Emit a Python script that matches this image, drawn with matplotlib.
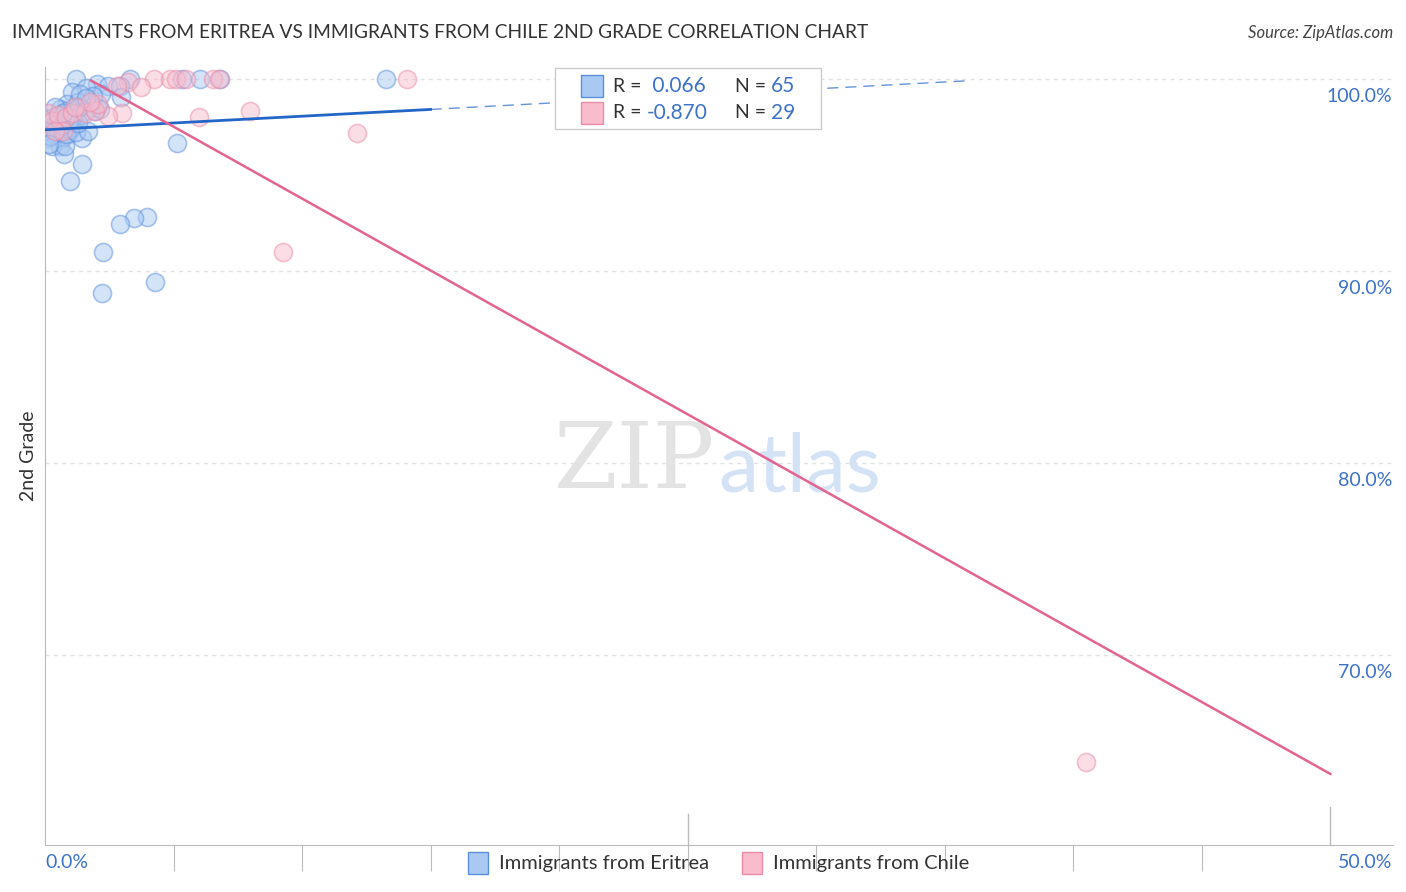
import numpy as np
import matplotlib.pyplot as plt

# Immigrants from Eritrea (x = % immigrants, y = 2nd grade %)
eritrea_x = [1.21, 3.31, 5.33, 6.03, 6.81, 13.27, 2.02, 2.45, 2.92, 1.60,
             2.96, 1.05, 2.18, 0.86, 1.28, 1.75, 2.02, 1.17, 0.58, 0.31,
             0.19, 0.39, 0.12, 0.66, 0.58, 0.89, 1.44, 0.97, 0.27, 0.74,
             0.78, 5.14, 1.44, 0.97, 3.97, 3.46, 2.92, 2.26, 4.28, 2.22,
             0.08, 0.39, 0.00, 0.58, 0.82, 1.17, 1.56, 1.87, 1.36, 1.05,
             0.51, 0.82, 1.21, 1.67, 0.19, 0.66, 0.93, 0.39, 1.32, 1.60,
             1.95, 2.14, 0.70, 0.16, 1.28]
eritrea_y = [100.0, 100.0, 100.0, 100.0, 100.0, 100.0, 99.7, 99.6, 99.6, 99.5,
             99.06, 99.3, 99.2, 98.7, 98.8, 98.5, 98.5, 97.6, 97.9, 98.0,
             97.5, 97.1, 96.9, 96.9, 96.5, 97.1, 96.9, 97.4, 96.5, 96.1,
             96.5, 96.67, 95.57, 94.69, 92.81, 92.76, 92.45, 91.0, 89.43, 88.85,
             97.9, 97.6, 97.3, 98.4, 98.3, 98.2, 98.3, 99.1, 99.2, 97.9,
             97.2, 97.1, 97.2, 97.3, 97.0, 97.6, 97.8, 98.5, 98.5, 99.0,
             98.3, 98.4, 98.2, 96.6, 97.7]

# Immigrants from Chile
chile_x = [4.24, 4.86, 5.10, 5.49, 6.54, 6.77, 14.09, 3.23, 3.74, 2.80,
           7.98, 5.99, 3.00, 2.45, 12.14, 9.26, 40.50, 0.12, 0.27, 0.51,
           0.82, 1.05, 1.56, 1.95, 2.06, 1.75, 0.70, 0.39, 1.17]
chile_y = [100.0, 100.0, 100.0, 100.0, 100.0, 100.0, 100.0, 99.84, 99.58, 99.6,
           98.33, 98.02, 98.23, 98.07, 97.19, 90.99, 64.43, 98.2, 97.8, 98.1,
           98.0, 98.2, 98.2, 98.3, 98.7, 98.8, 97.3, 97.3, 98.5]

# regression lines (solid part, dashed extension)
eritrea_fit_x = [0.0, 15.0, 36.0]
eritrea_fit_y = [97.34, 98.40, 99.90]
chile_fit_x = [1.8, 50.0]
chile_fit_y = [99.9, 63.8]

yticks = [70, 80, 90, 100]
xlabels = ["0.0%", "50.0%"]

blue_fill = "#a9c9f2"
blue_edge = "#5b8fdc"
pink_fill = "#f8bccd"
pink_edge = "#e88ca9"
blue_line = "#2466c8"
pink_line = "#e2648f"
tick_blue = "#3d72c9"

plt.rcParams['font.family'] = ['Lato', 'DejaVu Sans']

fig = plt.figure(figsize=(14.06, 8.92), dpi=100)
ax = fig.add_axes([0.032, 0.0527, 0.959, 0.872])
ax.set_xlim(0, 52.45)
ax.set_ylim(60.1, 100.6)

for v in yticks:
    ax.axhline(v, color="#e2e2e2", lw=1, ls=(0, (3, 3)), zorder=0)
    ax.text(52.4, v - 0.94, f"{v:.1f}%", ha="right", va="center",
            fontsize=14, color=tick_blue)

ax.scatter(eritrea_x, eritrea_y, s=170, facecolor=blue_fill, edgecolor=blue_edge,
           alpha=0.5, lw=1.2, zorder=3)
ax.scatter(chile_x, chile_y, s=170, facecolor=pink_fill, edgecolor=pink_edge,
           alpha=0.5, lw=1.2, zorder=3)

ax.plot(eritrea_fit_x[:2], eritrea_fit_y[:2], color=blue_line, lw=2, zorder=4)
ax.plot(eritrea_fit_x[1:], eritrea_fit_y[1:], color=blue_line, lw=1, ls=(0, (8, 5)),
        alpha=0.7, zorder=4)
ax.plot(chile_fit_x, chile_fit_y, color=pink_line, lw=1.8, zorder=4)

# axes styling
for s in ["top", "right"]:
    ax.spines[s].set_visible(False)
ax.spines["left"].set_color("#bbbbbb")
ax.spines["bottom"].set_color("#bbbbbb")
ax.set_yticks([])
ax.set_xticks(np.arange(5, 50, 5))
ax.tick_params(axis="x", length=19, color="#bbbbbb", labelbottom=False)
ax.plot([25, 25], [60.1, 61.7], color="#bbbbbb", lw=1, clip_on=False)
ax.plot([50, 50], [60.1, 62.1], color="#bbbbbb", lw=1, clip_on=False)
ax.text(0, 59.2, xlabels[0], ha="left", va="center", fontsize=14, color=tick_blue)
ax.text(52.4, 59.2, xlabels[1], ha="right", va="center", fontsize=14, color=tick_blue)

ax.set_ylabel("2nd Grade", fontsize=14, color="#333333", labelpad=6)

# watermark
ax.text(19.8, 80.0, "ZIP", fontsize=66, family="DejaVu Serif", color="#e3e3e3",
        ha="left", va="center", zorder=1)
ax.text(26.2, 79.7, "atlas", fontsize=58, color="#d3e2f5", ha="left", va="center",
        zorder=1)

# top legend box
fig.patches.append(plt.Rectangle((555 / 1406, 1 - 129 / 892), 266 / 1406, 61 / 892,
                                 transform=fig.transFigure, facecolor="white",
                                 edgecolor="#cccccc", lw=1, zorder=5))
rows = [(86, blue_fill, blue_edge, " 0.066", "65"), (113, pink_fill, pink_edge, "-0.870", "29")]
for py, fc, ec, r, n in rows:
    yf = 1 - py / 892
    fig.patches.append(plt.Rectangle((581 / 1406, yf - 11 / 892), 22 / 1406, 22 / 892,
                                     transform=fig.transFigure, facecolor=fc,
                                     edgecolor=ec, lw=1, zorder=6))
    fig.text(613 / 1406, yf, "R =", fontsize=14, color="#333333", va="center", zorder=7)
    fig.text(647 / 1406, yf, r, fontsize=15, color=tick_blue, va="center", zorder=7)
    fig.text(735 / 1406, yf, "N =", fontsize=14, color="#333333", va="center", zorder=7)
    fig.text(771 / 1406, yf, n, fontsize=15, color=tick_blue, va="center", zorder=7)

# bottom legend
for x0, fc, ec, lab in [(468, blue_fill, blue_edge, "Immigrants from Eritrea"),
                        (742, pink_fill, pink_edge, "Immigrants from Chile")]:
    yf = 1 - 863 / 892
    fig.patches.append(plt.Rectangle((x0 / 1406, yf - 11 / 892), 20 / 1406, 22 / 892,
                                     transform=fig.transFigure, facecolor=fc,
                                     edgecolor=ec, lw=1))
    fig.text((x0 + 31) / 1406, yf, lab, fontsize=14.5, color="#333333", va="center")

fig.text(12 / 1406, 1 - 33 / 892, "IMMIGRANTS FROM ERITREA VS IMMIGRANTS FROM CHILE 2ND GRADE CORRELATION CHART",
         fontsize=13.8, color="#333333", va="center")
fig.text(1393 / 1406, 1 - 33 / 892, "Source: ZipAtlas.com", fontsize=12, color="#444444",
         va="center", ha="right", style="italic")

fig.savefig("out.png", dpi=100)
